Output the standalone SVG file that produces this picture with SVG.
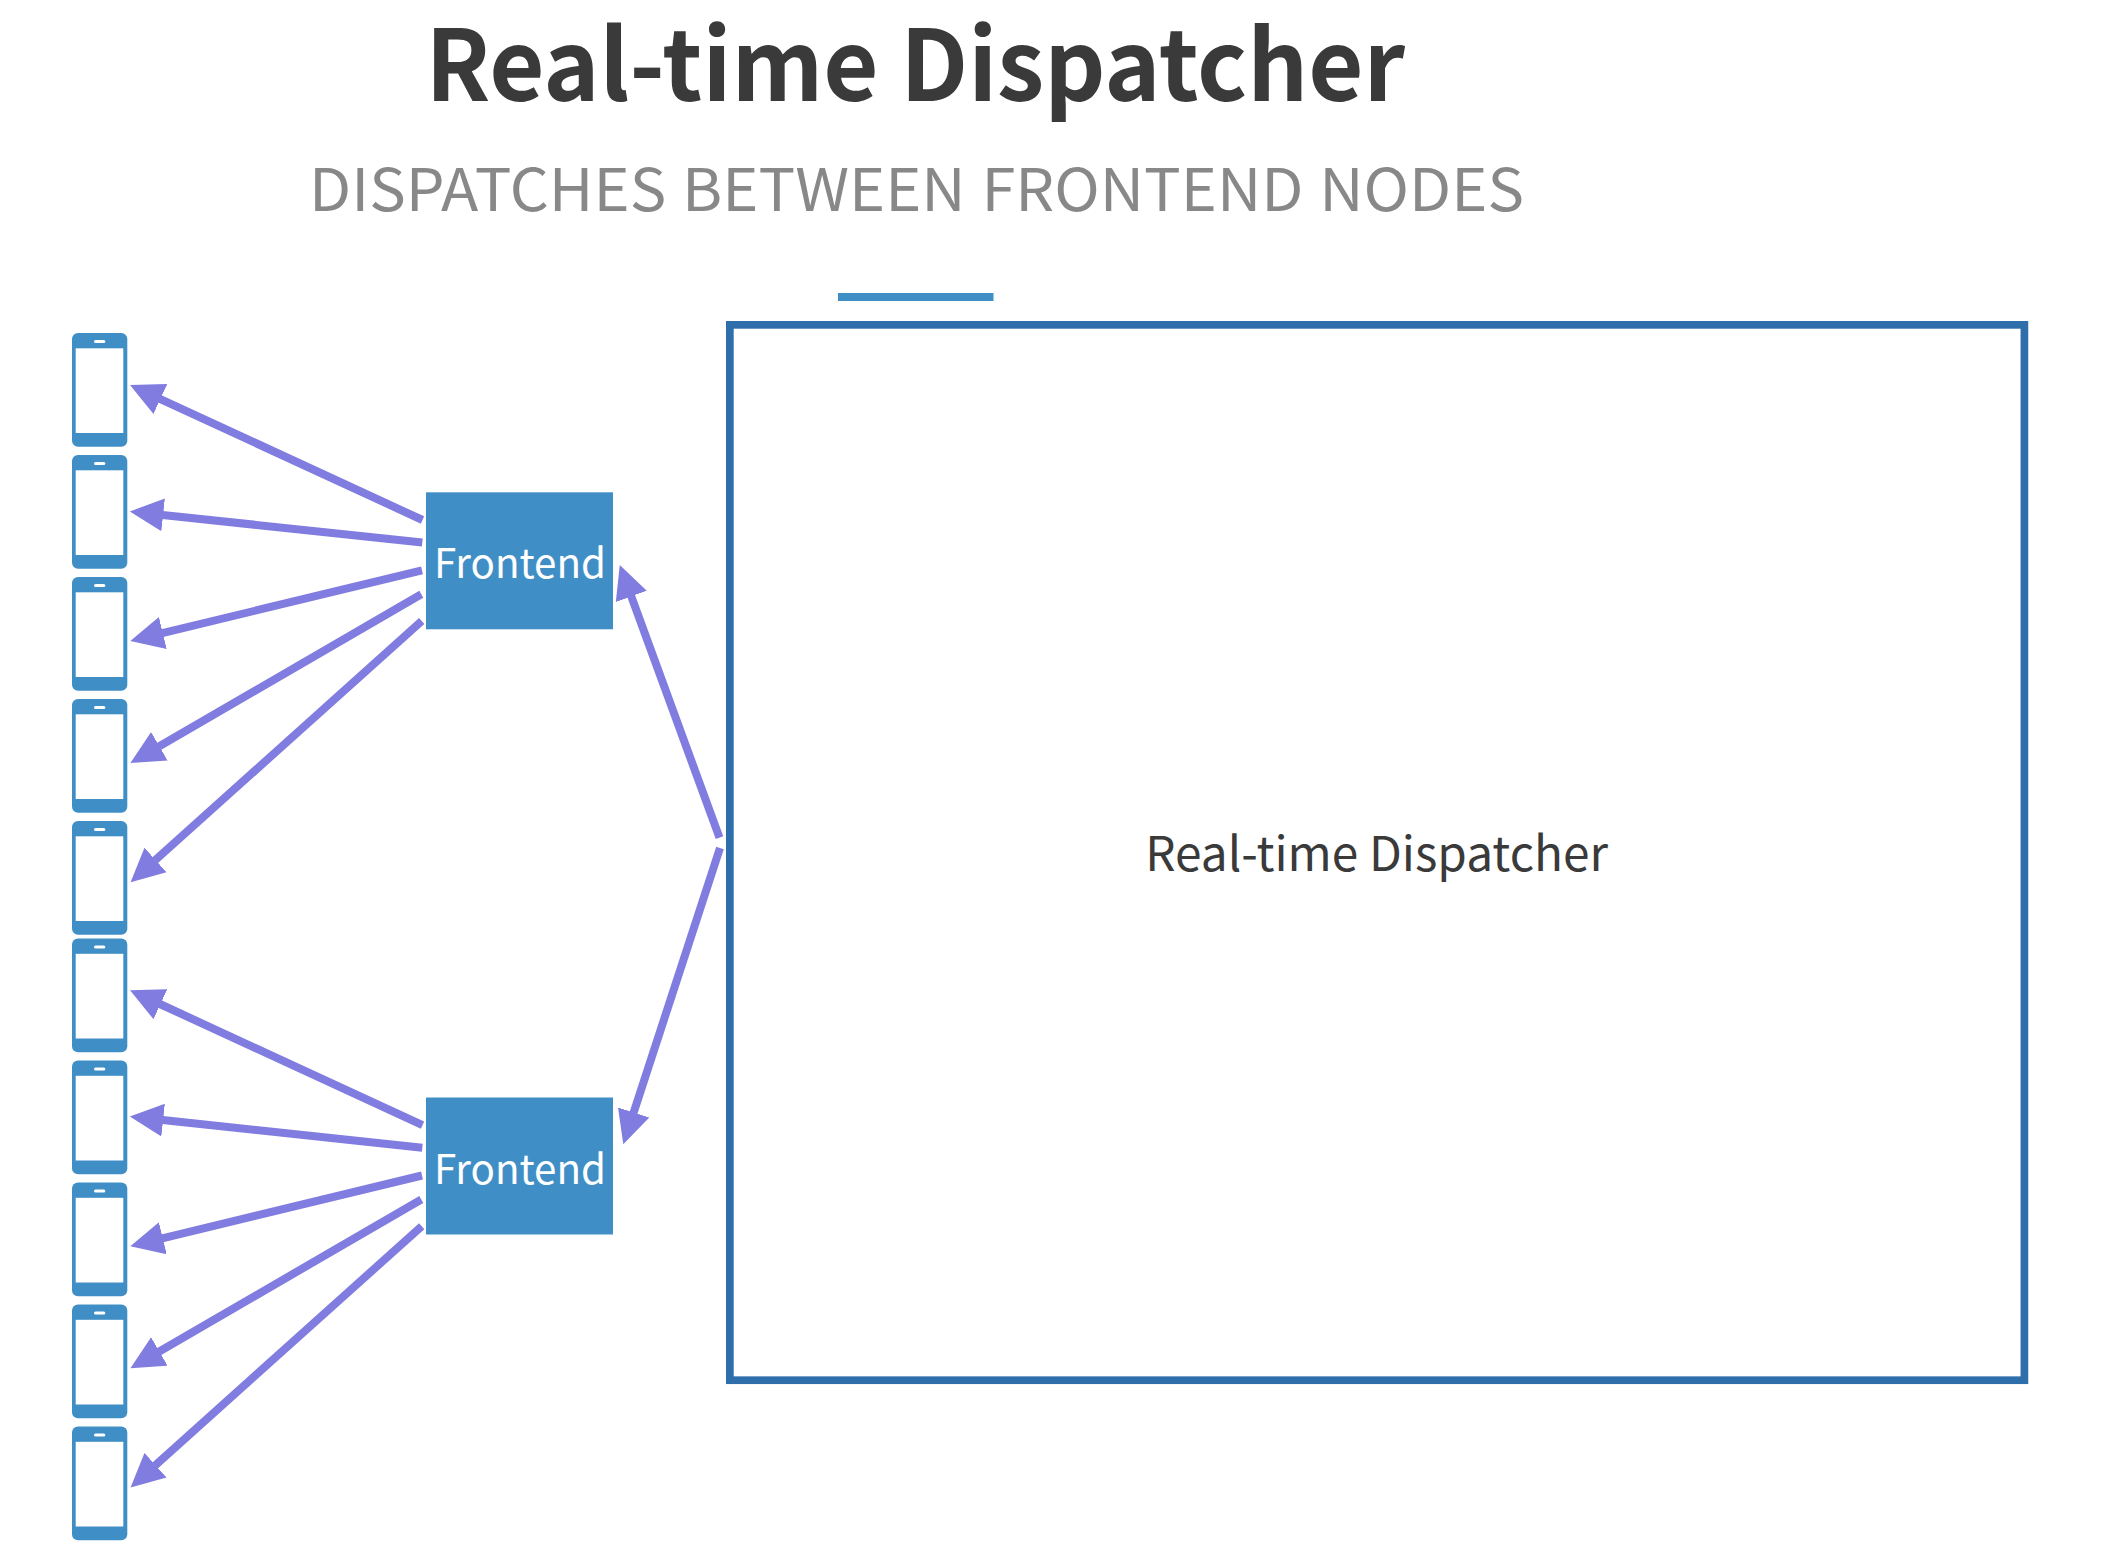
<svg xmlns="http://www.w3.org/2000/svg" width="2102" height="1560" viewBox="0 0 2102 1560">
<style>
text{font-family:"Noto Sans CJK SC","Source Sans Pro","Noto Sans",sans-serif}
.title{font-size:98px;font-weight:700;fill:#3a3a3a}
.sub{font-size:59px;font-weight:400;fill:#888888;word-spacing:2px}
.fe{fill:#3f8fc6}
.felabel{font-size:41px;fill:#ffffff}
.boxlabel{font-size:48px;fill:#3a3a3a}
.conn line{stroke:#807ce0;stroke-width:8;fill:none;marker-end:url(#head)}
</style>
<defs>
<marker id="head" markerUnits="userSpaceOnUse" markerWidth="34" markerHeight="34" viewBox="0 0 32 32" refX="0.5" refY="16" orient="auto">
<path d="M0 0.5L31.5 16L0 31.5Z" fill="#807ce0"/>
</marker>
<g id="phone">
<rect x="72" y="0" width="55.3" height="113.7" rx="6" fill="#3f8fc6"/>
<rect x="75.7" y="15.3" width="47.6" height="84.7" fill="#ffffff"/>
<rect x="94" y="7" width="11.3" height="3" rx="1.5" fill="#ffffff"/>
</g>
</defs>
<rect width="2102" height="1560" fill="#ffffff"/>
<g id="header">
<text class="title" x="425.5" y="101" textLength="979.5" lengthAdjust="spacingAndGlyphs">Real-time Dispatcher</text>
<text class="sub" x="309" y="210.7" textLength="1215" lengthAdjust="spacingAndGlyphs">DISPATCHES BETWEEN FRONTEND NODES</text>
<rect x="838" y="293" width="155.5" height="8" fill="#3f8fc6"/>
</g>
<g id="phone-1"><use href="#phone" y="333"/></g>
<g id="phone-2"><use href="#phone" y="455"/></g>
<g id="phone-3"><use href="#phone" y="577"/></g>
<g id="phone-4"><use href="#phone" y="699"/></g>
<g id="phone-5"><use href="#phone" y="821"/></g>
<g id="phone-6"><use href="#phone" y="938.5"/></g>
<g id="phone-7"><use href="#phone" y="1060.5"/></g>
<g id="phone-8"><use href="#phone" y="1182.5"/></g>
<g id="phone-9"><use href="#phone" y="1304.5"/></g>
<g id="phone-10"><use href="#phone" y="1426.5"/></g>
<g id="frontend-1">
<rect class="fe" x="426" y="492.3" width="187" height="137"/>
<text class="felabel" x="434" y="578" textLength="172" lengthAdjust="spacingAndGlyphs">Frontend</text>
</g>
<g id="frontend-2">
<rect class="fe" x="426" y="1097.5" width="187" height="137"/>
<text class="felabel" x="434" y="1184" textLength="172" lengthAdjust="spacingAndGlyphs">Frontend</text>
</g>
<g id="dispatcher">
<rect x="729.85" y="324.85" width="1294.55" height="1055.35" fill="none" stroke="#2e6fab" stroke-width="7.7"/>
<text class="boxlabel" x="1145.3" y="871" textLength="462.7" lengthAdjust="spacingAndGlyphs">Real-time Dispatcher</text>
</g>
<g id="connectors" class="conn">
<line x1="422.5" y1="520" x2="159.9" y2="398.8"/>
<line x1="422.3" y1="542.6" x2="162.6" y2="514.9"/>
<line x1="422" y1="570.3" x2="162.3" y2="633.2"/>
<line x1="421.3" y1="594.3" x2="158.9" y2="746.5"/>
<line x1="421.7" y1="621" x2="155.1" y2="860.3"/>
<line x1="422.5" y1="1125.2" x2="159.9" y2="1004"/>
<line x1="422.3" y1="1147.8" x2="162.6" y2="1120.1"/>
<line x1="422" y1="1175.5" x2="162.3" y2="1238.4"/>
<line x1="421.3" y1="1199.5" x2="158.9" y2="1351.7"/>
<line x1="421.7" y1="1226.2" x2="155.1" y2="1465.5"/>
<line x1="719.5" y1="837.7" x2="631.1" y2="595.9"/>
<line x1="720" y1="848" x2="633.5" y2="1113"/>
</g>
</svg>
